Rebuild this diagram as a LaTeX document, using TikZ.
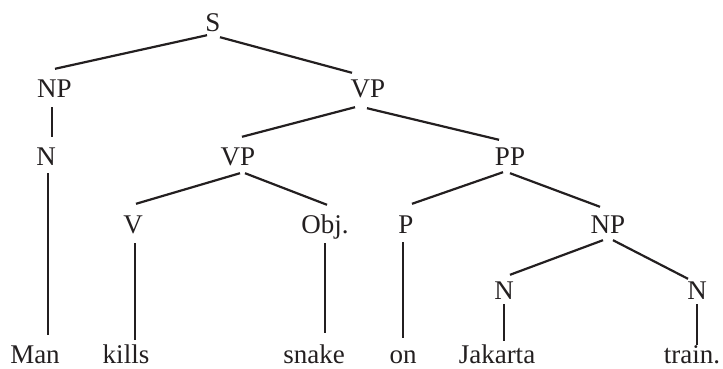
\documentclass[tikz,border=0pt]{standalone}
\usepackage{fontspec}
\setmainfont{Liberation Serif}
\usepackage{tikz}
\definecolor{ink}{HTML}{231F20}
\newcommand{\treefont}{\fontsize{27}{31}\selectfont}

\begin{document}
\begin{tikzpicture}[x=1pt,y=-1pt,
    cat/.style={inner sep=0pt, text height=18pt, text depth=0pt, anchor=base, font=\treefont, text=ink},
    branch/.style={draw=ink, line width=2.2pt}]
    \useasboundingbox (0,0) rectangle (723,369);

    % categories
    \node[cat] (s)   at (213,32)  {S};
    \node[cat] (np)  at (54.5,98) {NP};
    \node[cat] (vp)  at (368,98)  {VP};
    \node[cat] (n)   at (46,165)  {N};
    \node[cat] (vpp) at (238,165) {VP};
    \node[cat] (pp)  at (510,165) {PP};
    \node[cat] (v)   at (133,233) {V};
    \node[cat] (obj) at (325,233) {Obj.};
    \node[cat] (p)   at (406,233) {P};
    \node[cat] (npp) at (608,233) {NP};
    \node[cat] (nj)  at (504,299) {N};
    \node[cat] (nt)  at (697,299) {N};

    % words
    \node[cat] (man)   at (35,363)  {Man};
    \node[cat] (kills) at (126,363) {kills};
    \node[cat] (snake) at (314,363) {snake};
    \node[cat] (on)    at (403,363) {on};
    \node[cat] (jak)   at (497,363) {Jakarta};
    \node[cat] (train) at (692,363) {train.};

    % branches
    \draw[branch] ([shift={(-6,3)}]s.south) -- ([shift={(0.5,-11)}]np.north);
    \draw[branch] ([shift={(7,5)}]s.south) -- ([shift={(-16,-7)}]vp.north);
    \draw[branch] ([shift={(-13,9)}]vp.south) -- ([shift={(4,-10)}]vpp.north);
    \draw[branch] ([shift={(-1,10)}]vp.south) -- ([shift={(-11,-7)}]pp.north);
    \draw[branch] ([shift={(2,8)}]vpp.south) -- ([shift={(3,-11)}]v.north);
    \draw[branch] ([shift={(7,8)}]vpp.south) -- ([shift={(2,-10)}]obj.north);
    \draw[branch] ([shift={(-7,7)}]pp.south) -- ([shift={(6,-11)}]p.north);
    \draw[branch] ([shift={(0,8)}]pp.south) -- ([shift={(-8,-8)}]npp.north);
    \draw[branch] ([shift={(-5,7)}]npp.south) -- ([shift={(6,-6)}]nj.north);
    \draw[branch] ([shift={(5,7)}]npp.south) -- ([shift={(-9,-2)}]nt.north);

    % stems
    \draw[branch] ([shift={(-2.5,9)}]np.south) -- ([shift={(6,-10)}]n.north);
    \draw[branch] ([shift={(2,8)}]n.south) -- ([shift={(13,-10)}]man.north);
    \draw[branch] ([shift={(2,10)}]v.south) -- ([shift={(9,-5)}]kills.north);
    \draw[branch] ([shift={(0,10)}]obj.south) -- ([shift={(11,-12)}]snake.north);
    \draw[branch] ([shift={(-3,9)}]p.south) -- ([shift={(0,-7)}]on.north);
    \draw[branch] ([shift={(0,5)}]nj.south) -- ([shift={(7,-4)}]jak.north);
    \draw[branch] ([shift={(0,5)}]nt.south) -- ([shift={(5,0)}]train.north);
\end{tikzpicture}
\end{document}
